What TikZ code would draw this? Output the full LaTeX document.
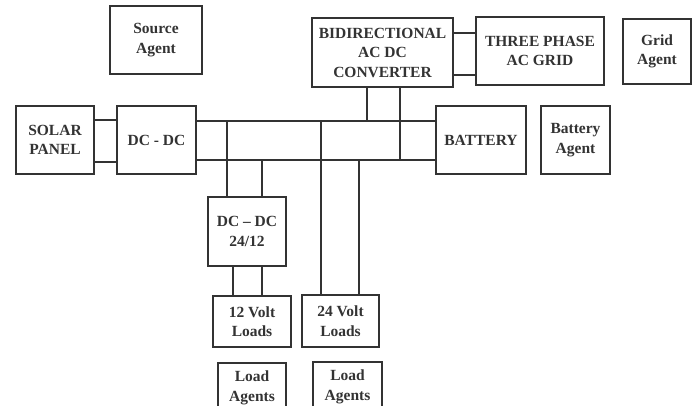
\documentclass[tikz,border=0pt]{standalone}
\usepackage{fontspec}
\setmainfont{Liberation Serif}
\usepackage{xcolor}
\usepackage{tikz}
\usetikzlibrary{calc,positioning}
\definecolor{figLine}{HTML}{333333}

\begin{document}
\begin{tikzpicture}[
  x=1pt, y=-1pt,
  every node/.style={font=\fontsize{15.5}{19.5}\selectfont\bfseries, text=figLine},
  blk/.style={draw=figLine, line width=1.2pt, rectangle, align=center, inner sep=0pt},
  wire/.style={figLine, line width=1.1pt},
]

% --- Frame ---
\useasboundingbox (0,0) rectangle (696,405);

% --- Blocks ---
\node[blk, minimum width=92, minimum height=68] (srcag)  at (156,40)    {Source\\Agent};
\node[blk, minimum width=78, minimum height=68] (solar)  at (55,140)    {SOLAR\\PANEL};
\node[blk, minimum width=79, minimum height=68] (dcdc)   at (156.5,140) {DC - DC};
\node[blk, minimum width=141, minimum height=69] (bidi)  at (382.5,52.5) {BIDIRECTIONAL\\AC DC\\CONVERTER};
\node[blk, minimum width=128, minimum height=68] (acgrid) at (540,51)   {THREE PHASE\\AC GRID};
\node[blk, minimum width=68, minimum height=65] (gridag) at (657,51.5)  {Grid\\Agent};
\node[blk, minimum width=90, minimum height=68] (batt)   at (481,140)   {BATTERY};
\node[blk, minimum width=69, minimum height=68] (battag) at (575.5,140) {Battery\\Agent};
\node[blk, minimum width=78, minimum height=69] (conv)   at (247,231.5) {DC -- DC\\24/12};
\node[blk, minimum width=78, minimum height=51] (load12) at (252,321.5) {12 Volt\\Loads};
\node[blk, minimum width=77, minimum height=52] (load24) at (340.5,321) {24 Volt\\Loads};
\node[blk, minimum width=68, minimum height=50] (ldag1)  at (252,388)   {Load\\Agents};
\node[blk, minimum width=69, minimum height=50] (ldag2)  at (347.5,387) {Load\\Agents};

% --- Source and grid links ---
\draw[wire] (solar.east |- 0,120) -- (dcdc.west |- 0,120);
\draw[wire] (solar.east |- 0,162) -- (dcdc.west |- 0,162);
\draw[wire] (bidi.east |- 0,33) -- (acgrid.west |- 0,33);
\draw[wire] (bidi.east |- 0,75) -- (acgrid.west |- 0,75);

% --- DC buses ---
\draw[wire] (dcdc.east |- 0,121) -- (batt.west |- 0,121);
\draw[wire] (dcdc.east |- 0,160) -- (batt.west |- 0,160);

% --- Drops from converter ---
\draw[wire] (bidi.south -| 367,0) -- (367,121);
\draw[wire] (bidi.south -| 400,0) -- (400,160);

% --- Drops to loads ---
\draw[wire] (227,121) -- (conv.north -| 227,0);
\draw[wire] (262,160) -- (conv.north -| 262,0);
\draw[wire] (321,121) -- (load24.north -| 321,0);
\draw[wire] (359,160) -- (load24.north -| 359,0);
\draw[wire] (conv.south -| 233,0) -- (load12.north -| 233,0);
\draw[wire] (conv.south -| 262,0) -- (load12.north -| 262,0);

\end{tikzpicture}
\end{document}
